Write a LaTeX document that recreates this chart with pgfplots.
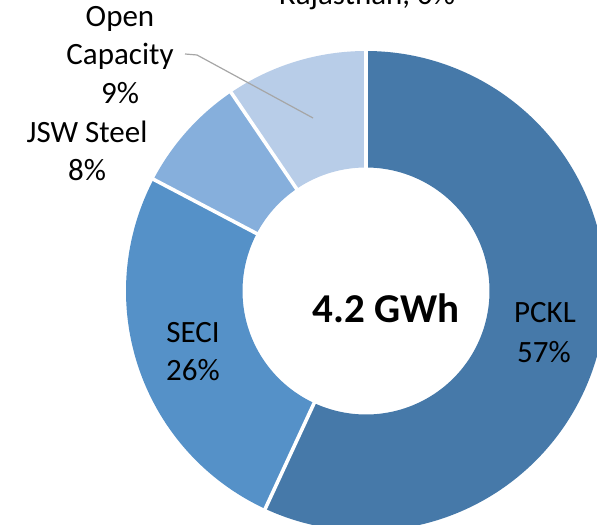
\documentclass[border=0pt]{standalone}
\usepackage{pgfplots}
\usepackage{pgfplotstable}
\pgfplotsset{compat=1.18}
\usepackage{fontspec}
\setmainfont{Carlito}
\definecolor{cPCKL}{RGB}{70,121,169}
\definecolor{cSECI}{RGB}{85,145,200}
\definecolor{cJSW}{RGB}{134,175,220}
\definecolor{cOpen}{RGB}{184,205,232}
\definecolor{leader}{RGB}{166,166,166}
\pgfplotstableread{
name value
PCKL 56.9
SECI 25.8
JSW 7.8
Open 9.5
Rajasthan 0
}\sharetable
\tikzset{lbl/.style={font=\fontsize{15.5}{18}\selectfont, inner sep=0pt, text=black, anchor=base}}
\begin{document}
\begin{tikzpicture}
\pgfplotstablegetelem{0}{value}\of\sharetable \let\vA\pgfplotsretval
\pgfplotstablegetelem{1}{value}\of\sharetable \let\vB\pgfplotsretval
\pgfplotstablegetelem{2}{value}\of\sharetable \let\vC\pgfplotsretval
\pgfplotstablegetelem{3}{value}\of\sharetable \let\vD\pgfplotsretval
\pgfmathsetmacro\aS{90}
\pgfmathsetmacro\aA{\aS-3.6*\vA}
\pgfmathsetmacro\aB{\aA-3.6*\vB}
\pgfmathsetmacro\aC{\aB-3.6*\vC}
\pgfmathsetmacro\aD{\aC-3.6*\vD}
% separator endpoints
\pgfmathsetmacro\sAx{118*cos(\aA)}\pgfmathsetmacro\sAy{118*sin(\aA)}
\pgfmathsetmacro\eAx{246*cos(\aA)}\pgfmathsetmacro\eAy{246*sin(\aA)}
\pgfmathsetmacro\sBx{118*cos(\aB)}\pgfmathsetmacro\sBy{118*sin(\aB)}
\pgfmathsetmacro\eBx{246*cos(\aB)}\pgfmathsetmacro\eBy{246*sin(\aB)}
\pgfmathsetmacro\sCx{118*cos(\aC)}\pgfmathsetmacro\sCy{118*sin(\aC)}
\pgfmathsetmacro\eCx{246*cos(\aC)}\pgfmathsetmacro\eCy{246*sin(\aC)}
\pgfmathsetmacro\sDx{118*cos(\aS)}\pgfmathsetmacro\sDy{118*sin(\aS)}
\pgfmathsetmacro\eDx{246*cos(\aS)}\pgfmathsetmacro\eDy{246*sin(\aS)}
\path[use as bounding box] (0,0) rectangle (298.5pt,262pt);
\clip (0,0) rectangle (298.5pt,262pt);
\begin{axis}[
  at={(0,0)}, anchor=south west,
  width=298.5pt, height=262pt, scale only axis,
  xmin=-366, xmax=231, ymin=-233, ymax=291,
  hide axis, clip=false,
]
\addplot[draw=cPCKL, line width=58.25pt, domain=\aA:\aS, samples=200, variable=\t, no marks] ({181.75*cos(\t)},{181.75*sin(\t)});
\addplot[draw=cSECI, line width=58.25pt, domain=\aB:\aA, samples=120, variable=\t, no marks] ({181.75*cos(\t)},{181.75*sin(\t)});
\addplot[draw=cJSW, line width=58.25pt, domain=\aC:\aB, samples=60, variable=\t, no marks] ({181.75*cos(\t)},{181.75*sin(\t)});
\addplot[draw=cOpen, line width=58.25pt, domain=\aD:\aC, samples=60, variable=\t, no marks] ({181.75*cos(\t)},{181.75*sin(\t)});
\addplot[white, line width=1.8pt, no marks] coordinates {(\sAx,\sAy) (\eAx,\eAy)};
\addplot[white, line width=1.8pt, no marks] coordinates {(\sBx,\sBy) (\eBx,\eBy)};
\addplot[white, line width=1.8pt, no marks] coordinates {(\sCx,\sCy) (\eCx,\eCy)};
\addplot[white, line width=1.8pt, no marks] coordinates {(\sDx,\sDy) (\eDx,\eDy)};
% leader line
\addplot[leader, line width=0.6pt, no marks] coordinates {(-181,237) (-169,236) (-53,173)};
% labels
\node[lbl] at (axis cs:1,286) {Rajasthan, 0\%};
\node[lbl] at (axis cs:-246,264) {Open};
\node[lbl] at (axis cs:-246,226) {Capacity};
\node[lbl] at (axis cs:-246,187) {9\%};
\node[lbl] at (axis cs:-279,148) {JSW Steel};
\node[lbl] at (axis cs:-279,110) {8\%};
\node[lbl] at (axis cs:-173,-51) {SECI};
\node[lbl] at (axis cs:-173,-89) {26\%};
\node[lbl] at (axis cs:179,-32) {PCKL};
\node[lbl] at (axis cs:178,-71) {57\%};
\node[lbl, font=\fontsize{20.5}{24}\selectfont\bfseries] at (axis cs:20,-31) {4.2 GWh};
\end{axis}
\end{tikzpicture}
\end{document}
